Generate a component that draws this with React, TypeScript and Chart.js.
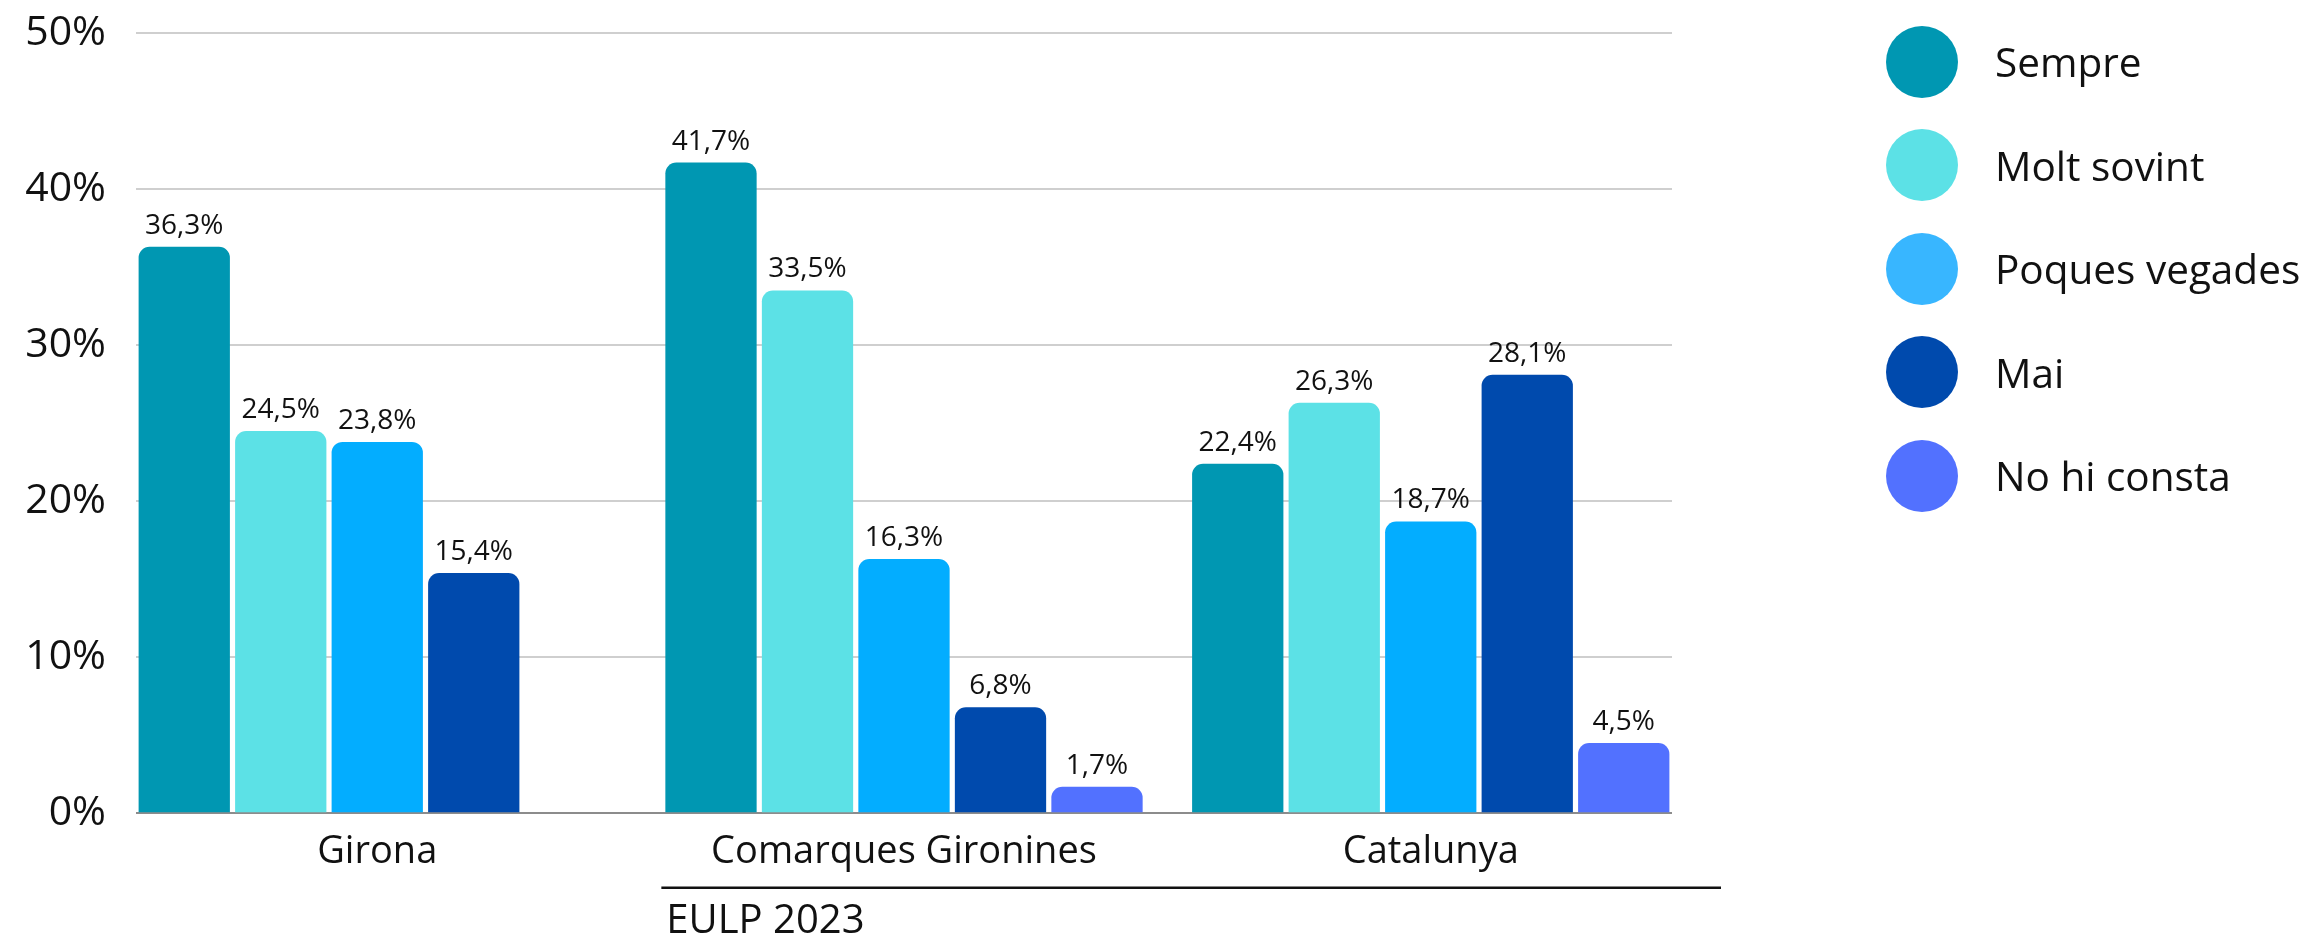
import React, { useEffect, useRef } from 'react';
import { Chart, registerables } from 'chart.js';

Chart.register(...registerables);

// ---- Data ----
const categories = ['Girona', 'Comarques Gironines', 'Catalunya'];
const seriesNames = ['Sempre', 'Molt sovint', 'Poques vegades', 'Mai', 'No hi consta'];
const sempre = [36.3, 41.7, 22.4];
const moltSovint = [24.5, 33.5, 26.3];
const poquesVegades = [23.8, 16.3, 18.7];
const mai = [15.4, 6.8, 28.1];
const noHiConsta: (number | null)[] = [null, 1.7, 4.5];
const yTickValues = [0, 10, 20, 30, 40, 50];
const groupLabel = 'EULP 2023';

// ---- Styles ----
const barColors = ['#0097B2', '#5CE1E6', '#03ADFF', '#004AAD', '#5271FF'];
const legendColors = ['#0097B2', '#5CE1E6', '#38B6FF', '#004AAD', '#5271FF'];
const FONT = '"Open Sans", "Noto Sans", sans-serif';
const W = 2316;
const H = 937;

const seriesValues = [sempre, moltSovint, poquesVegades, mai, noHiConsta];

const fmt = (v: number) => v.toFixed(1).replace('.', ',') + '%';

const valueLabelsPlugin = {
  id: 'valueLabels',
  afterDatasetsDraw(chart: any) {
    const ctx = chart.ctx;
    ctx.save();
    ctx.font = `28px ${FONT}`;
    ctx.fillStyle = '#111111';
    ctx.textAlign = 'center';
    ctx.textBaseline = 'alphabetic';
    chart.data.datasets.forEach((ds: any, di: number) => {
      const meta = chart.getDatasetMeta(di);
      meta.data.forEach((bar: any, i: number) => {
        const v = ds.data[i].y;
        if (v == null) return;
        ctx.fillText(fmt(v), bar.x, bar.y - 13);
      });
    });
    ctx.restore();
  },
};

const groupLabelPlugin = {
  id: 'groupLabel',
  afterDraw(chart: any) {
    const ctx = chart.ctx;
    const xs = chart.scales.x;
    const bar = chart.getDatasetMeta(0).data[1];
    const left = bar.x - bar.width / 2;
    const right = chart.chartArea.right + 49;
    const lineY = xs.top + 74.5;
    ctx.save();
    ctx.strokeStyle = '#111111';
    ctx.lineWidth = 2.5;
    ctx.beginPath();
    ctx.moveTo(left - 4, lineY);
    ctx.lineTo(right, lineY);
    ctx.stroke();
    ctx.font = `40px ${FONT}`;
    ctx.fillStyle = '#111111';
    ctx.textAlign = 'left';
    ctx.textBaseline = 'alphabetic';
    ctx.fillText(groupLabel, left + 1, xs.top + 119.5);
    ctx.restore();
  },
};

export default function App() {
  const canvasRef = useRef<HTMLCanvasElement | null>(null);

  useEffect(() => {
    const canvas = canvasRef.current;
    if (!canvas) return;
    const chart = new Chart(canvas, {
      type: 'bar',
      data: {
        datasets: seriesNames.map((name, si) => ({
          label: name,
          data: seriesValues[si].map((v, i) => ({ x: i, y: v })),
          backgroundColor: barColors[si],
          borderWidth: 0,
          borderRadius: 11,
          borderSkipped: 'start',
          categoryPercentage: 0.916,
          barPercentage: 0.946,
        })),
      },
      options: {
        animation: false,
        responsive: false,
        devicePixelRatio: 1,
        layout: { padding: { top: 33, right: W - 1672, bottom: 0, left: 0 } },
        plugins: {
          legend: { display: false },
          tooltip: { enabled: false },
        },
        scales: {
          x: {
            type: 'linear',
            min: -0.458,
            max: 2.458,
            offset: false,
            bounds: 'data',
            grid: { display: false, drawTicks: false },
            border: { display: false },
            afterBuildTicks: (scale: any) => {
              scale.ticks = categories.map((_, i) => ({ value: i }));
            },
            afterFit: (scale: any) => {
              scale.height = H - 813.3;
              scale.paddingLeft = 0;
              scale.paddingRight = 0;
            },
            ticks: {
              padding: 16,
              color: '#111111',
              font: { family: FONT, size: 38 },
              maxRotation: 0,
              autoSkip: false,
              callback: (value: any) => categories[value] ?? '',
            },
          },
          y: {
            min: 0,
            max: 50,
            afterBuildTicks: (scale: any) => {
              scale.ticks = yTickValues.map((v) => ({ value: v }));
            },
            afterFit: (scale: any) => {
              scale.width = 136;
              scale.paddingTop = 0;
              scale.paddingBottom = 0;
            },
            grid: {
              drawTicks: false,
              lineWidth: 2,
              color: (c: any) => (c.tick && c.tick.value === 0 ? '#8c8c8c' : '#cfcfcf'),
            },
            border: { display: false },
            ticks: {
              padding: 30,
              color: '#111111',
              font: { family: FONT, size: 41 },
              callback: (value: any) => value + '%',
            },
          },
        },
      },
      plugins: [valueLabelsPlugin, groupLabelPlugin],
    });
    return () => chart.destroy();
  }, []);

  return (
    <div style={{ position: 'fixed', left: 0, top: 0, width: W, height: H, background: '#ffffff' }}>
      <canvas ref={canvasRef} width={W} height={H} style={{ position: 'absolute', left: 0, top: 0, width: W, height: H }} />
      <div
        style={{
          position: 'absolute',
          left: 1886,
          top: 25.5,
          display: 'flex',
          flexDirection: 'column',
          gap: 31.5,
          fontFamily: FONT,
          fontSize: 40.5,
          color: '#111111',
        }}
      >
        {seriesNames.map((name, i) => (
          <div key={name} style={{ display: 'flex', alignItems: 'center', height: 72, whiteSpace: 'nowrap' }}>
            <span
              style={{
                display: 'inline-block',
                width: 72,
                height: 72,
                borderRadius: '50%',
                background: legendColors[i],
                marginRight: 37,
                flex: '0 0 auto',
              }}
            />
            <span>{name}</span>
          </div>
        ))}
      </div>
    </div>
  );
}
